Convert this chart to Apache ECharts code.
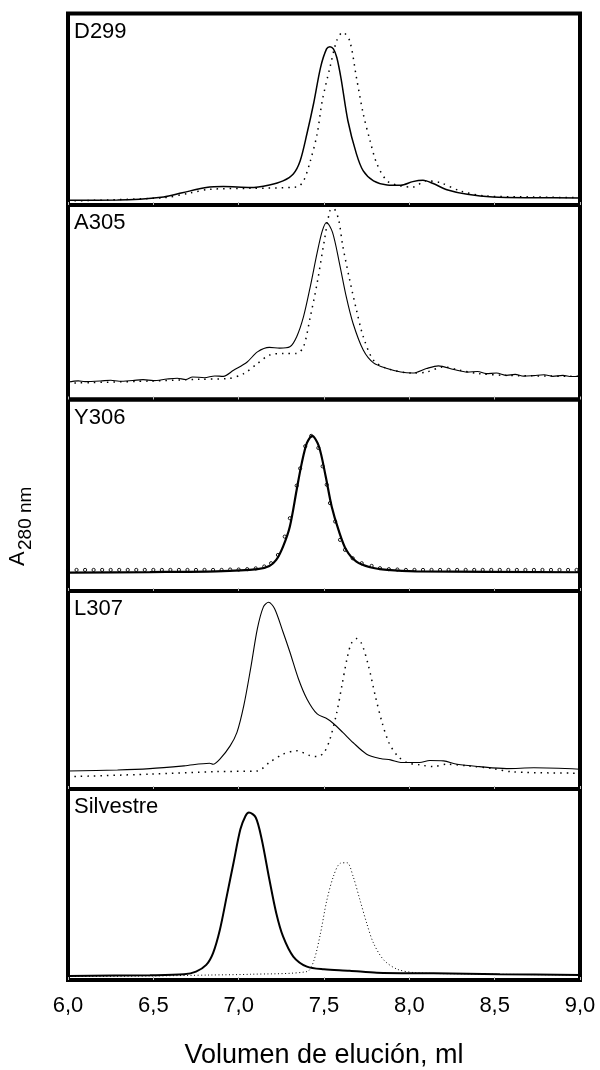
<!DOCTYPE html>
<html>
<head>
<meta charset="utf-8">
<script src="https://cdn.jsdelivr.net/npm/echarts@6/dist/echarts.min.js"></script>
<style>
  html, body { margin: 0; padding: 0; background: #fff; }
  #chart { width: 600px; height: 1070px; }
</style>
</head>
<body>
<div id="chart"></div>
<script>
// Elution profiles (A280, relative units 0-100 per panel) vs elution volume (ml)
const panelNames = ['D299', 'A305', 'Y306', 'L307', 'Silvestre'];

const d299Solid = [[6.00,2.5],[6.29,2.6],[6.56,4.2],[6.67,6.4],[6.81,9.1],[6.91,9.6],[7.07,9.1],[7.18,10.5],[7.26,12.6],[7.32,16.2],[7.36,23.0],[7.40,37.2],[7.44,53.4],[7.48,71.9],[7.515,81.5],[7.535,82.7],[7.555,81.5],[7.575,77.0],[7.60,66.0],[7.64,44.0],[7.69,26.7],[7.73,17.8],[7.79,12.6],[7.87,10.5],[7.95,10.3],[8.02,12.2],[8.08,12.9],[8.14,11.2],[8.22,8.0],[8.34,5.6],[8.49,4.2],[8.73,3.8],[9.00,3.7]];
const d299Dotted = [[6.00,2.1],[6.56,3.8],[6.72,6.4],[6.83,8.2],[7.07,8.7],[7.34,9.4],[7.38,12.6],[7.42,23.0],[7.46,37.2],[7.49,54.5],[7.535,71.9],[7.575,85.9],[7.61,90.2],[7.65,85.9],[7.69,66.6],[7.73,47.6],[7.77,33.5],[7.81,21.5],[7.87,12.6],[7.95,9.9],[8.02,9.4],[8.10,12.6],[8.18,11.7],[8.30,7.3],[8.45,4.7],[8.73,4.2],[9.00,3.8]];

const a305Solid = [[6.00,9.0],[6.06,9.6],[6.10,9.2],[6.19,9.5],[6.25,9.9],[6.30,9.4],[6.38,9.8],[6.44,10.2],[6.50,9.7],[6.58,10.5],[6.64,10.9],[6.69,10.3],[6.73,11.6],[6.80,11.2],[6.86,12.1],[6.91,11.9],[6.97,15.0],[7.05,19.3],[7.11,24.5],[7.18,26.8],[7.24,26.4],[7.30,27.1],[7.34,32.3],[7.38,42.6],[7.42,58.2],[7.46,75.5],[7.49,86.7],[7.515,91.0],[7.55,85.9],[7.59,70.3],[7.63,53.0],[7.67,39.2],[7.73,25.4],[7.79,18.8],[7.87,15.9],[7.95,14.1],[8.02,13.6],[8.10,15.9],[8.17,17.3],[8.26,15.4],[8.34,14.1],[8.40,14.4],[8.45,13.3],[8.51,13.6],[8.57,12.4],[8.62,12.9],[8.67,12.0],[8.73,12.3],[8.79,12.7],[8.84,11.9],[8.90,12.4],[8.95,11.8],[9.00,11.9]];
const a305Dotted = [[6.00,8.4],[6.48,9.5],[6.77,10.4],[6.93,10.7],[7.03,13.3],[7.11,18.5],[7.18,22.8],[7.26,23.7],[7.34,23.7],[7.38,27.1],[7.42,42.6],[7.46,59.9],[7.50,80.7],[7.535,97.1],[7.555,98.2],[7.585,92.7],[7.61,78.9],[7.65,61.7],[7.69,46.1],[7.73,32.3],[7.79,20.2],[7.87,15.9],[8.02,13.6],[8.10,14.1],[8.20,16.7],[8.30,15.0],[8.41,13.3],[8.57,12.4],[9.00,11.9]];

const y306Solid = [[6.00,9.6],[6.48,9.9],[6.87,10.3],[7.11,11.4],[7.18,13.1],[7.22,16.2],[7.26,23.2],[7.30,33.7],[7.34,52.9],[7.37,66.9],[7.40,77.3],[7.43,81.0],[7.47,75.6],[7.51,59.8],[7.545,44.1],[7.585,31.9],[7.63,21.5],[7.69,15.3],[7.77,12.4],[7.87,11.0],[8.04,10.2],[9.00,9.8]];
const y306Points = [[6.00,11.0],[6.05,11.0],[6.10,11.0],[6.15,11.0],[6.20,11.0],[6.25,11.0],[6.30,11.0],[6.35,11.0],[6.40,11.0],[6.45,11.0],[6.50,11.0],[6.55,11.0],[6.60,11.0],[6.65,11.0],[6.70,11.0],[6.75,11.0],[6.80,11.0],[6.85,11.0],[6.90,11.0],[6.95,11.2],[7.00,11.2],[7.05,11.4],[7.10,11.8],[7.15,12.8],[7.19,14.5],[7.23,18.8],[7.27,28.4],[7.30,38.0],[7.34,55.0],[7.36,64.0],[7.39,75.6],[7.425,81.0],[7.467,74.7],[7.492,65.1],[7.516,55.5],[7.535,45.9],[7.565,36.3],[7.594,26.7],[7.623,21.5],[7.668,17.1],[7.721,14.5],[7.779,13.1],[7.828,11.9],[7.88,11.4],[7.93,11.2],[7.98,11.0],[8.03,11.0],[8.08,11.0],[8.13,11.0],[8.18,11.0],[8.23,11.0],[8.28,11.0],[8.33,11.0],[8.38,11.0],[8.43,11.0],[8.48,11.0],[8.53,11.0],[8.58,11.0],[8.63,11.0],[8.68,11.0],[8.73,11.0],[8.78,11.0],[8.83,11.0],[8.88,11.0],[8.93,11.0],[8.98,11.0]];

const l307Solid = [[6.00,9.1],[6.29,9.6],[6.48,10.3],[6.68,11.7],[6.83,13.0],[6.85,12.5],[6.89,15.1],[6.95,21.8],[6.99,28.6],[7.03,42.1],[7.07,60.8],[7.11,81.1],[7.145,92.0],[7.175,94.3],[7.21,91.2],[7.26,79.3],[7.30,69.2],[7.35,55.7],[7.40,45.5],[7.46,37.9],[7.52,35.4],[7.555,33.1],[7.61,28.6],[7.67,23.5],[7.75,17.6],[7.83,15.4],[7.89,14.7],[7.95,13.4],[8.06,13.4],[8.12,14.4],[8.20,14.2],[8.28,12.5],[8.41,11.3],[8.57,10.3],[8.73,10.7],[9.00,10.0]];
const l307Dotted = [[6.00,6.2],[6.48,7.5],[6.87,8.8],[7.11,9.1],[7.18,13.4],[7.26,17.6],[7.34,19.3],[7.42,16.8],[7.46,16.4],[7.50,18.4],[7.535,25.2],[7.575,38.7],[7.605,52.3],[7.635,65.8],[7.66,73.5],[7.69,76.0],[7.72,73.5],[7.76,62.4],[7.80,47.2],[7.84,33.7],[7.88,23.5],[7.93,16.8],[7.985,13.4],[8.06,12.2],[8.14,11.3],[8.22,12.5],[8.34,11.7],[8.49,10.3],[8.61,8.6],[9.00,8.0]];

const wtSolid = [[6.00,2.1],[6.48,2.5],[6.68,3.0],[6.75,4.4],[6.81,7.9],[6.85,14.1],[6.89,26.3],[6.93,43.8],[6.97,61.4],[7.01,78.9],[7.04,85.9],[7.06,87.7],[7.10,85.1],[7.135,73.7],[7.18,52.6],[7.22,35.1],[7.26,22.8],[7.32,12.3],[7.40,7.0],[7.50,5.6],[7.65,4.9],[7.81,3.8],[8.14,3.5],[8.53,3.0],[9.00,2.6]];
const wtDotted = [[6.00,1.8],[6.48,2.1],[6.83,2.6],[7.07,3.0],[7.40,4.4],[7.44,10.0],[7.48,24.7],[7.515,41.1],[7.555,54.2],[7.595,61.1],[7.635,61.4],[7.67,54.4],[7.71,42.1],[7.75,29.8],[7.79,19.3],[7.85,10.5],[7.93,5.6],[8.04,3.8],[8.34,3.2],[9.00,2.6]];

const xTickStep = 0.5;
const xMin = 6.0, xMax = 9.0;

const FONT = '"Liberation Sans", Arial, sans-serif';

// stacked panel frames (pixels)
const panelTops = [13.5, 205, 399.5, 591, 789];
const panelHeights = [191.5, 194.5, 191.5, 198, 191.5];
const solidWidths = [1.5, 1.1, 2.2, 1.1, 2.0];

const chart = echarts.init(document.getElementById('chart'), null, { renderer: 'canvas' });

const grids = [], xAxes = [], yAxes = [], series = [], labels = [];
const solids = [d299Solid, a305Solid, y306Solid, l307Solid, wtSolid];
const dotteds = [d299Dotted, a305Dotted, null, l307Dotted, wtDotted];

panelNames.forEach((name, i) => {
  const last = i === panelNames.length - 1;
  grids.push({
    left: 68, right: 20, top: panelTops[i], height: panelHeights[i],
    show: true, borderColor: '#000', borderWidth: 4, backgroundColor: 'transparent'
  });
  xAxes.push({
    type: 'value', gridIndex: i, min: xMin, max: xMax, interval: xTickStep,
    axisLine: { show: false },
    axisTick: { show: true, inside: true, length: 3, lineStyle: { color: '#bbb', width: 1 } },
    splitLine: { show: false },
    axisLabel: {
      show: last, color: '#000', fontSize: 22, fontFamily: FONT, margin: 15,
      formatter: v => v.toFixed(1).replace('.', ',')
    },
    name: last ? 'Volumen de elución, ml' : '',
    nameLocation: 'middle', nameGap: 62,
    nameTextStyle: { color: '#000', fontSize: 27, fontFamily: FONT }
  });
  yAxes.push({ type: 'value', gridIndex: i, min: 0, max: 100, show: false });

  series.push({
    type: 'line', xAxisIndex: i, yAxisIndex: i, data: solids[i],
    showSymbol: false, smooth: 0.3, animation: false, z: 3,
    lineStyle: { color: '#000', width: solidWidths[i] }
  });
  if (dotteds[i]) {
    const fine = last;
    series.push({
      type: 'line', xAxisIndex: i, yAxisIndex: i, data: dotteds[i],
      showSymbol: false, smooth: 0.3, animation: false, z: 2,
      lineStyle: { color: '#000', width: fine ? 1 : 1.5, type: fine ? [1, 2.5] : [1.5, 5], cap: 'butt' }
    });
  }
  labels.push({
    type: 'text', left: 74, top: panelTops[i] + 7,
    style: { text: name, fill: '#000', font: '22px ' + FONT }
  });
});

// Y306 second profile drawn as small open circles
series.push({
  type: 'line', xAxisIndex: 2, yAxisIndex: 2, data: y306Points,
  symbol: 'circle', symbolSize: 3.2, showSymbol: true, animation: false, z: 4,
  lineStyle: { width: 0, opacity: 0 },
  itemStyle: { color: 'rgba(255,255,255,0)', borderColor: '#000', borderWidth: 0.9 }
});

// y axis title: A with subscript "280 nm"
labels.push({
  type: 'text', x: 29, y: 566, rotation: Math.PI / 2,
  style: { text: 'A', fill: '#000', font: '22px ' + FONT, textAlign: 'left', textVerticalAlign: 'bottom' }
});
labels.push({
  type: 'text', x: 35, y: 550, rotation: Math.PI / 2,
  style: { text: '280 nm', fill: '#000', font: '19px ' + FONT, textAlign: 'left', textVerticalAlign: 'bottom' }
});

chart.setOption({
  backgroundColor: '#fff',
  animation: false,
  grid: grids,
  xAxis: xAxes,
  yAxis: yAxes,
  series: series,
  graphic: labels
});
</script>
</body>
</html>
